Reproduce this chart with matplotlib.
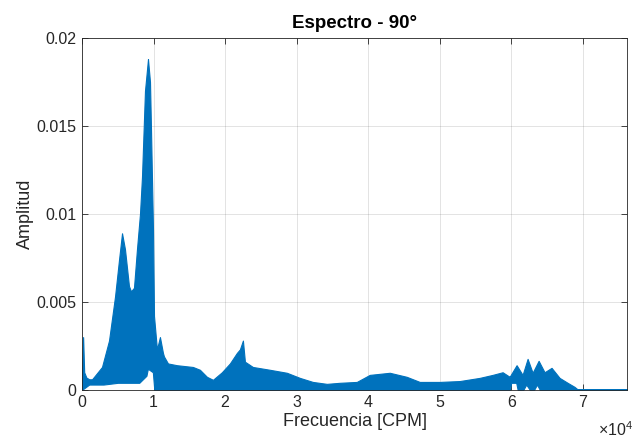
"""
Espectro - 90 grados: envolvente del espectro de amplitud leida de la figura.
"""
import numpy as np
import matplotlib
matplotlib.use('Agg')
from matplotlib import pyplot as plt
from matplotlib.ticker import FuncFormatter

# frecuencia [CPM] y envolvente superior de la amplitud
freq_upper = [0, 150, 300, 600, 1000, 1400, 1800, 2790, 3770, 4610, 5170,
              5590, 6000, 6560, 6840, 7260, 7680, 8100, 8380, 8800, 9220,
              9500, 9640, 9920, 10060, 10470, 10890, 11310, 11450, 12010,
              13270, 15500, 16480, 17460, 18300, 19550, 20670, 21650, 22070,
              22490, 22770, 23880, 26260, 28630, 30450, 32260, 34220, 36030,
              38410, 40220, 43020, 45390, 47210, 50000, 52800, 55590, 57400,
              58800, 59780, 60750, 61590, 62290, 62990, 63830, 64660, 65640,
              66760, 67880, 68850, 69270, 70000, 76200]
amp_upper = [0.0012, 0.0030, 0.0010, 0.0007, 0.0006, 0.0006, 0.0008, 0.0013,
             0.0028, 0.0053, 0.0074, 0.0089, 0.0080, 0.0059, 0.0056, 0.0058,
             0.0080, 0.0100, 0.0121, 0.0170, 0.0188, 0.0175, 0.0148, 0.0091,
             0.0042, 0.0023, 0.0030, 0.0021, 0.0019, 0.0015, 0.0014, 0.0013,
             0.00114, 0.00074, 0.00057, 0.0010, 0.0015, 0.0021, 0.0023,
             0.0028, 0.0016, 0.0013, 0.00114, 0.00097, 0.00068, 0.00045,
             0.00034, 0.0004, 0.00045, 0.00085, 0.00097, 0.00074, 0.00045,
             0.00045, 0.0005, 0.00068, 0.00085, 0.0010, 0.00074, 0.0014,
             0.00085, 0.00176, 0.00097, 0.00165, 0.0010, 0.00125, 0.00068,
             0.0004, 0.00017, 0.00003, 0.00004, 0.00004]

# envolvente inferior
freq_lower = [0, 1000, 3000, 5000, 8000, 9000, 9200, 9900, 10100, 59800,
              60000, 60700, 60900, 61700, 62100, 62600, 63200, 63600, 64000,
              64200, 76200]
amp_lower = [0.0, 0.0003, 0.0003, 0.0004, 0.0004, 0.0008, 0.0012, 0.0010,
             0.0, 0.0, 0.0004, 0.0004, 0.0, 0.0, 0.0003, 0.0, 0.0, 0.0003,
             0.0, 0.0, 0.0]

x_ticks = [0, 10000, 20000, 30000, 40000, 50000, 60000, 70000]
y_ticks = [0, 0.005, 0.01, 0.015, 0.02]
y_tick_labels = ["0", "0.005", "0.01", "0.015", "0.02"]

MATLAB_BLUE = "#0072BD"
AXIS_GRAY = "#262626"


def plot_espectro():
    plt.rcParams['font.family'] = ['Liberation Sans', 'DejaVu Sans']
    plt.rcParams['mathtext.fontset'] = 'custom'
    plt.rcParams['mathtext.rm'] = 'Liberation Sans'
    fig = plt.figure(figsize=(6.36, 4.42), dpi=100)
    ax = fig.add_axes([0.129, 0.118, 0.857, 0.796])

    grid = np.union1d(freq_upper, freq_lower)
    upper = np.interp(grid, freq_upper, amp_upper)
    lower = np.interp(grid, freq_lower, amp_lower)
    ax.fill_between(grid, lower, upper, color=MATLAB_BLUE, lw=0.8,
                    edgecolor=MATLAB_BLUE)

    ax.set_xlim(0, 76200)
    ax.set_ylim(0, 0.02)
    ax.set_xticks(x_ticks)
    ax.xaxis.set_major_formatter(FuncFormatter(lambda v, _: f"{v / 1e4:g}"))
    ax.set_yticks(y_ticks)
    ax.set_yticklabels(y_tick_labels)

    ax.grid(True, color=AXIS_GRAY, alpha=0.15, lw=0.6)
    ax.set_axisbelow(True)
    ax.tick_params(direction='in', top=True, right=True, length=4,
                   labelsize=11.5, colors=AXIS_GRAY, width=0.6, pad=4)
    for spine in ax.spines.values():
        spine.set_color(AXIS_GRAY)
        spine.set_linewidth(0.6)

    ax.set_title("Espectro - 90°", fontsize=13.5, fontweight='bold', pad=7)
    ax.set_xlabel("Frecuencia [CPM]", fontsize=13, color=AXIS_GRAY,
                  labelpad=2)
    ax.set_ylabel("Amplitud", fontsize=13, color=AXIS_GRAY, labelpad=2)
    ax.text(1.011, -0.131, r"$\times10^{4}$", transform=ax.transAxes,
            ha='right', va='baseline', fontsize=11.5, color=AXIS_GRAY)

    fig.savefig("out.png", dpi=100)


if __name__ == "__main__":
    plot_espectro()
